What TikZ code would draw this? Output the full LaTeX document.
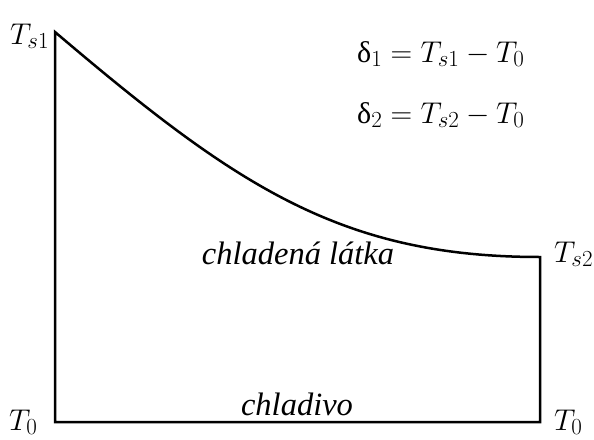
\RequirePackage{fix-cm}
\documentclass[tikz,border=0pt]{standalone}
\usepackage{fontspec}
\setmainfont{Liberation Serif}
\newfontfamily\labfont{Liberation Serif}
\DeclareMathSizes{30}{30}{23}{17}
\begin{document}
\begin{tikzpicture}[x=1pt,y=-1pt,
  edge/.style={line width=2.5pt,line join=miter},
  lab/.style={font=\fontsize{30}{34}\selectfont,inner sep=0pt,anchor=base west},
  itlab/.style={font=\labfont\fontsize{32.5}{36}\selectfont\itshape,inner sep=0pt,anchor=base}]
\useasboundingbox (0,0) rectangle (594,439);
\coordinate (A) at (55,32);
\coordinate (B) at (540,257);
\coordinate (C) at (540,422);
\coordinate (D) at (55,422);
\draw[edge] (D) -- (A) .. controls (235,185) and (340,257) .. (B) -- (C) -- cycle;
\node[lab] (ts1) at (10,44) {$T_{s1}$};
\node[lab] (ts2) at (554,262) {$T_{s2}$};
\node[lab] (t0l) at (9,430) {$T_0$};
\node[lab] (t0r) at (554,430) {$T_0$};
\node[lab] (d1) at (357,62) {δ$_1 = T_{s1} - T_0$};
\node[lab] (d2) at (357,123) {δ$_2 = T_{s2} - T_0$};
\node[itlab] (cl) at (298,264) {chladená látka};
\node[itlab] (ch) at (297,415) {chladivo};
\end{tikzpicture}
\end{document}
